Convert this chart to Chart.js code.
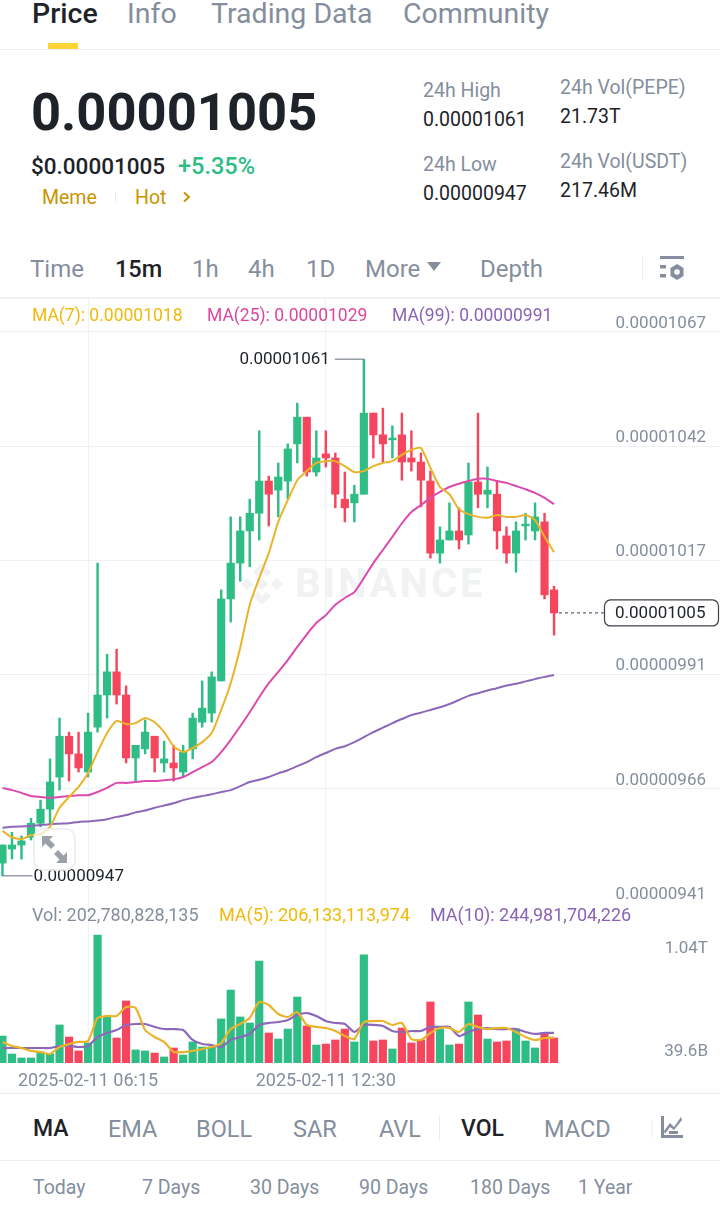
<!DOCTYPE html>
<html>
<head>
<meta charset="utf-8">
<script src="https://cdn.jsdelivr.net/npm/chart.js@4/dist/chart.umd.min.js"></script>
<style>
html,body{margin:0;padding:0;background:#fff;width:720px;height:1210px;overflow:hidden;font-family:Roboto,"Noto Sans",sans-serif;}
.t{position:absolute;white-space:nowrap;line-height:30px;height:30px;transform:translateY(-15px);}
.g{color:#848E9C}.d{color:#1E2329}
.ln{position:absolute;left:0;width:720px;background:#EAECEF}
canvas{position:absolute;left:0}
</style>
</head>
<body>
<div class="t d" style="left:32px;top:14px;font-size:28.5px;font-weight:500">Price</div>
<div class="t g" style="left:127px;top:14px;font-size:28.5px">Info</div>
<div class="t g" style="left:211px;top:14px;font-size:28.5px">Trading Data</div>
<div class="t g" style="left:403px;top:14px;font-size:28.5px">Community</div>
<div style="position:absolute;left:48px;top:43px;width:30px;height:6px;background:#FCD535"></div>
<div class="ln" style="top:49px;height:1px"></div>

<div class="t d" style="left:31px;top:112px;font-size:52.5px;font-weight:700">0.00001005</div>
<div class="t d" style="left:31px;top:166px;font-size:22.5px;font-weight:500">$0.00001005</div>
<div class="t" style="left:178px;top:166px;font-size:23.5px;font-weight:500;color:#2EBD85">+5.35%</div>
<div class="t" style="left:42px;top:198px;font-size:19.5px;color:#C99400">Meme</div>
<div style="position:absolute;left:115px;top:192px;width:1px;height:10px;background:#EAECEF"></div>
<div class="t" style="left:135px;top:198px;font-size:19.5px;color:#C99400">Hot</div>
<svg style="position:absolute;left:182px;top:191px" width="10" height="12"><path d="M2 1.5 L7 6 L2 10.5" fill="none" stroke="#C99400" stroke-width="2"/></svg>

<div class="t g" style="left:423px;top:91px;font-size:19.5px">24h High</div>
<div class="t d" style="left:423px;top:120px;font-size:19.5px">0.00001061</div>
<div class="t g" style="left:560px;top:88px;font-size:19.5px">24h Vol(PEPE)</div>
<div class="t d" style="left:560px;top:117px;font-size:19.5px">21.73T</div>
<div class="t g" style="left:423px;top:165px;font-size:19.5px">24h Low</div>
<div class="t d" style="left:423px;top:194px;font-size:19.5px">0.00000947</div>
<div class="t g" style="left:560px;top:162px;font-size:19.5px">24h Vol(USDT)</div>
<div class="t d" style="left:560px;top:191px;font-size:19.5px">217.46M</div>

<div class="t g" style="left:30px;top:269px;font-size:24px">Time</div>
<div class="t d" style="left:115px;top:269px;font-size:23.5px;font-weight:500">15m</div>
<div class="t g" style="left:192px;top:269px;font-size:24px">1h</div>
<div class="t g" style="left:248px;top:269px;font-size:24px">4h</div>
<div class="t g" style="left:306px;top:269px;font-size:24px">1D</div>
<div class="t g" style="left:365px;top:269px;font-size:24px">More</div>
<svg style="position:absolute;left:427px;top:262px" width="14" height="10"><path d="M0 0 H14 L7 9 Z" fill="#848E9C"/></svg>
<div class="t g" style="left:480px;top:269px;font-size:24px">Depth</div>
<div style="position:absolute;left:642px;top:256px;width:1px;height:24px;background:#EAECEF"></div>
<svg style="position:absolute;left:660px;top:256px" width="25" height="25">
<rect x="0" y="0" width="24" height="3" fill="#848E9C"/><rect x="0" y="9" width="6" height="3.5" fill="#848E9C"/><rect x="0" y="18" width="6" height="3.5" fill="#848E9C"/>
<path d="M17 8 L23.5 12 V20 L17 24 L10.5 20 V12 Z" fill="#848E9C"/><circle cx="17" cy="16" r="2.8" fill="#fff"/></svg>
<div class="ln" style="top:297px;height:2px;background:#F0F1F3"></div>

<!-- watermark -->
<svg style="position:absolute;left:238px;top:560px" width="48" height="48" viewBox="0 0 48 48">
<g fill="#F0F2F3"><path d="M24 3 L33 12 L28.5 16.5 L24 12 L19.5 16.5 L15 12 Z"/><path d="M24 45 L15 36 L19.5 31.5 L24 36 L28.5 31.5 L33 36 Z"/><path d="M3 24 L9 18 L15 24 L9 30 Z"/><path d="M33 24 L39 18 L45 24 L39 30 Z"/><path d="M24 18 L30 24 L24 30 L18 24 Z"/></g></svg>
<div class="t" style="left:295px;top:584px;font-size:40px;font-weight:700;color:#F0F2F3;letter-spacing:3px">BINANCE</div>

<canvas id="priceChart" width="720" height="605" style="top:298px"></canvas>
<canvas id="volumeChart" width="720" height="190" style="top:903px"></canvas>

<div class="t" style="left:32px;top:315px;font-size:17.5px;color:#F0B90B">MA(7): 0.00001018</div>
<div class="t" style="left:207px;top:315px;font-size:17.5px;color:#D9479F">MA(25): 0.00001029</div>
<div class="t" style="left:392px;top:315px;font-size:17.5px;color:#8A63B5">MA(99): 0.00000991</div>
<div class="t g" style="left:32px;top:915px;font-size:18px">Vol: 202,780,828,135</div>
<div class="t" style="left:219px;top:915px;font-size:18px;color:#F0B90B">MA(5): 206,133,113,974</div>
<div class="t" style="left:430px;top:915px;font-size:18px;color:#8A63B5">MA(10): 244,981,704,226</div>

<svg style="position:absolute;left:33px;top:828px" width="43" height="43" viewBox="0 0 43 43">
<rect x="1" y="1" width="41" height="41" rx="9" fill="rgba(255,255,255,.7)" stroke="#EAECEF" stroke-width="1.5"/>
<g fill="#9AA1AA"><path d="M9 8 H20 L16.5 11.5 L22 17 L18 21 L12.5 15.5 L9 19 Z"/><path d="M34 35 H23 L26.5 31.5 L21 26 L25 22 L30.5 27.5 L34 24 Z"/></g></svg>

<div class="ln" style="top:1093px;height:1px"></div>
<div class="t d" style="left:33px;top:1129px;font-size:23px;font-weight:500">MA</div>
<div class="t g" style="left:108px;top:1129px;font-size:23.5px">EMA</div>
<div class="t g" style="left:196px;top:1129px;font-size:23.5px">BOLL</div>
<div class="t g" style="left:293px;top:1129px;font-size:23.5px">SAR</div>
<div class="t g" style="left:379px;top:1129px;font-size:23.5px">AVL</div>
<div style="position:absolute;left:439px;top:1116px;width:1px;height:24px;background:#EAECEF"></div>
<div class="t d" style="left:461px;top:1129px;font-size:23px;font-weight:500">VOL</div>
<div class="t g" style="left:544px;top:1129px;font-size:23.5px">MACD</div>
<div style="position:absolute;left:651px;top:1120px;width:2px;height:17px;background:#F3F4F6"></div>
<svg style="position:absolute;left:660px;top:1116px" width="24" height="24">
<path d="M1 0 V22 H23 V19 H4 V0 Z" fill="#848E9C"/><path d="M4 15 L10 7 L14 11 L21 1 L22 4 L14 14 L10 11 L5 18 Z" fill="#848E9C"/><rect x="9" y="15" width="9" height="3" fill="#848E9C"/></svg>
<div class="ln" style="top:1160px;height:1px"></div>
<div class="t g" style="left:33px;top:1188px;font-size:19.5px">Today</div>
<div class="t g" style="left:142px;top:1188px;font-size:19.5px">7 Days</div>
<div class="t g" style="left:250px;top:1188px;font-size:19.5px">30 Days</div>
<div class="t g" style="left:359px;top:1188px;font-size:19.5px">90 Days</div>
<div class="t g" style="left:470px;top:1188px;font-size:19.5px">180 Days</div>
<div class="t g" style="left:578px;top:1188px;font-size:19.5px">1 Year</div>

<script>
// All prices in units of 1e-8 USDT; volumes in billions (B)
const opens=[949.8,952.9,953.8,955.5,958.6,961.7,968.8,977.8,973.9,969.9,979.8,986.9,992,986.9,973,975,977.8,971.9,971.9,969.9,975,980.9,982.9,990,1008.1,1016,1023.1,1027,1034.1,1032.1,1034.1,1042.3,1048.2,1036.1,1040.1,1039.2,1030.1,1029.3,1031.2,1049.1,1044.3,1043.2,1044.3,1039.2,1038.3,1034.1,1018.2,1021.1,1023.1,1022.2,1033.9,1031.2,1031.2,1022,1018.2,1024.2,1023.1,1025.1,1010.1];
const closes=[953.8,953.8,954.7,958.6,961.7,967.7,977.8,973.9,970.8,978.7,986.9,992,986.9,973,975.8,978.7,973,972.8,970.8,974.3,981.8,984,990.9,1008.1,1016,1023.1,1027,1034.1,1031.2,1035,1041.2,1048.2,1036.1,1039.2,1039.2,1031.2,1028.2,1031.2,1049.1,1044.3,1042.3,1043.6,1038.3,1038.3,1034.3,1018.2,1021.1,1023.1,1021.1,1033.9,1031.2,1032.1,1023.1,1018.2,1023.1,1024.6,1026.2,1009,1005];
const highs=[953.8,956.6,955.8,959.7,963.7,972.8,981.8,978.7,978.7,982.9,1016,995.9,997,988.9,975.8,981.4,977.8,976.7,975.8,975.8,982.9,990,992,1010.1,1026.2,1026.2,1030.1,1045.2,1035.2,1038.1,1042.3,1051.3,1048.2,1045.2,1045.2,1040.3,1036.1,1033.2,1061,1049.1,1050.2,1046.3,1049.1,1045.2,1040.3,1036.3,1024,1029.3,1028.2,1038.1,1049.1,1037.2,1034.1,1024,1025.1,1027,1029.3,1027,1010.9];
const lows=[947,950.7,950.7,954.9,957.8,958.6,965.9,967.9,969.9,968.8,978.7,981.8,984.9,971.9,967.9,973.9,969.9,969.9,967.9,968.8,972.8,979.8,980.9,990,1003,1012,1015.2,1021.1,1024.2,1026.2,1030.1,1038.1,1035.2,1035.2,1037.2,1028.2,1025.1,1025.1,1031.2,1039.2,1038.3,1039.2,1034.3,1036.3,1028.4,1017.1,1016,1021.1,1019.1,1020.2,1028.2,1028.2,1019.1,1016,1014,1021.1,1021.1,1008.1,1000.1];
const ma7=[956.9,955.5,955.1,956,956.2,957.8,962,964.4,966.6,969.7,974.3,978.5,981.2,980.5,980.7,981.8,980.9,978.7,975.6,974.3,975.2,976.5,978.5,983.6,989.5,997.3,1006.8,1012.7,1018.2,1025.1,1029.9,1034.3,1036.3,1038.1,1038.5,1038.5,1037.4,1036.1,1036.3,1037.4,1038.1,1038.5,1039.9,1041,1041.4,1037,1032.8,1031.2,1027.9,1026.8,1026.2,1026,1026.6,1026.2,1026.2,1026.6,1025.5,1021.8,1018.4];
const ma25=[966.4,965.9,965.3,964.6,964.4,964.2,964.4,964.6,964.8,964.8,965.5,966.4,967.5,967.5,967.7,967.9,967.9,968.1,968.3,968.8,969.9,971,972.1,974.3,977,980,983.1,986.4,989.5,992,994.6,997.5,1000.3,1002.8,1004.5,1006.8,1008.3,1009.6,1012.7,1016,1018.9,1021.8,1024.8,1027.3,1028.8,1030.4,1031.7,1032.8,1033.5,1034.1,1034.6,1034.6,1034.1,1033.7,1033,1032.3,1031.5,1030.4,1029];
const ma99=[957.6,957.8,957.9,958,958.2,958.4,958.5,958.6,958.9,959,959.2,959.5,960,960.4,961,961.4,962,962.5,963,963.7,964.2,964.6,965,965.5,965.9,966.8,967.7,968.2,968.8,969.6,970.3,971.2,972.1,973.2,974.1,975,975.6,976.5,977.6,978.7,979.7,980.7,981.6,982.5,983,983.6,984.2,984.9,985.8,986.7,987.3,987.9,988.4,989,989.4,989.9,990.4,990.9,991.3];
const volumes=[219,73,41,41,89,73,309,211,98,163,1040,374,203,504,106,98,81,49,122,65,171,130,130,358,593,374,325,829,244,195,276,536,301,146,154,187,276,171,878,179,187,114,284,163,187,496,276,146,154,496,390,195,171,179,276,179,122,244,203];
const volMa5=[171,138,122,98,89,73,130,154,171,179,366,382,382,455,447,268,211,171,89,89,98,114,130,163,276,317,366,496,471,398,374,414,309,293,284,260,219,195,333,341,341,309,325,195,187,244,284,284,252,317,293,276,284,284,252,211,187,203,206];
const volMa10=[122,122,122,122,122,122,138,138,130,138,211,244,268,309,317,317,293,276,276,268,187,154,146,130,187,211,236,309,325,333,349,390,406,382,341,325,317,252,309,309,301,260,252,260,260,293,293,293,219,252,276,284,276,276,276,252,236,244,245];
const priceTickValues=[1067,1041.8,1016.6,991.4,966.2,941];
const priceTickLabels=['0.00001067','0.00001042','0.00001017','0.00000991','0.00000966','0.00000941'];
const timeTickIndexes=[9,34];
const timeTickLabels=['2025-02-11 06:15','2025-02-11 12:30'];
const volTickValues=[1040,39.6];
const volTickLabels=['1.04T','39.6B'];
const highLabel='0.00001061', lowLabel='0.00000947', lastLabel='0.00001005';
const highIndex=38, lowIndex=0, lastPrice=1005;

const GREEN='#2EBD85',RED='#F6465D',YEL='#EAB42A',MAG='#DA4BAD',PUR='#8C68B8',GRID='#EFF1F3',AXIS='#848E9C';
const colors=opens.map((o,i)=>closes[i]>=o?GREEN:RED);
const xMin=-0.26,xMax=75.45;
const pts=a=>a.map((v,i)=>({x:i,y:v}));
const lineDs=(a,c,w)=>({type:'line',data:pts(a),borderColor:c,borderWidth:w,pointRadius:0,tension:0.2,order:0});
Chart.defaults.animation=false;
Chart.defaults.font.family='Roboto,"Noto Sans",sans-serif';

const noPad=s=>{s.paddingLeft=0;s.paddingRight=0;s.paddingTop=0;s.paddingBottom=0;};
const yFit=s=>{noPad(s);s.width=0;};
const xScale=(labels)=>({type:'linear',min:xMin,max:xMax,offset:false,border:{display:false},
  grid:{color:GRID,lineWidth:1,drawTicks:false,offset:false},
  afterBuildTicks:s=>{s.ticks=timeTickIndexes.map(v=>({value:v}));},
  afterFit:s=>{noPad(s);if(labels)s.height=30;},
  ticks:labels?{color:AXIS,font:{size:18},padding:8,maxRotation:0,autoSkip:false,callback:v=>timeTickLabels[timeTickIndexes.indexOf(v)]}:{display:false}
});

const markers={id:'markers',afterDatasetsDraw(c){
  const g=c.ctx,x=c.scales.x,y=c.scales.y;
  g.save();
  g.font='17px Roboto';g.textBaseline='middle';
  g.strokeStyle='#7D848E';g.lineWidth=1.2;
  const hx=x.getPixelForValue(highIndex),hy=y.getPixelForValue(highs[highIndex]);
  g.beginPath();g.moveTo(hx,hy);g.lineTo(hx-29,hy);g.stroke();
  g.fillStyle='#1E2329';g.textAlign='right';g.fillText(highLabel,hx-34,hy+1);
  const lx=x.getPixelForValue(lowIndex),ly=y.getPixelForValue(lows[lowIndex]);
  g.beginPath();g.moveTo(lx,ly);g.lineTo(lx+30,ly);g.stroke();
  g.textAlign='left';g.fillText(lowLabel,lx+31,ly+1);
  const py=y.getPixelForValue(lastPrice),px=x.getPixelForValue(opens.length-1);
  g.setLineDash([3,3]);g.strokeStyle='#5E6673';
  g.beginPath();g.moveTo(px+5,py);g.lineTo(604,py);g.stroke();g.setLineDash([]);
  g.fillStyle='#fff';g.strokeStyle='#3B4149';g.lineWidth=1.2;
  g.beginPath();g.roundRect(604.5,py-13,114,26,6);g.fill();g.stroke();
  g.fillStyle='#1E2329';g.fillText(lastLabel,615,py+1);
  g.restore();
}};

new Chart(document.getElementById('priceChart'),{
  data:{datasets:[
    lineDs(ma7,YEL,2),lineDs(ma25,MAG,2),lineDs(ma99,PUR,2),
    {type:'bar',grouped:false,data:opens.map((o,i)=>({x:i,y:[o,closes[i]]})),backgroundColor:colors,maxBarThickness:7.5,barPercentage:1,categoryPercentage:1,order:1},
    {type:'bar',grouped:false,data:lows.map((l,i)=>({x:i,y:[l,highs[i]]})),backgroundColor:colors,maxBarThickness:1.8,barPercentage:1,categoryPercentage:1,order:2}
  ]},
  options:{responsive:false,layout:{padding:0},
    plugins:{legend:{display:false},tooltip:{enabled:false}},
    scales:{x:xScale(false),
      y:{position:'right',min:941,max:1074.5,border:{display:false},
        grid:{color:GRID,drawTicks:false},
        afterBuildTicks:s=>{s.ticks=priceTickValues.map(v=>({value:v}));},
        afterFit:yFit,
        ticks:{mirror:true,padding:-14,labelOffset:-8.5,color:AXIS,font:{size:17},callback:v=>priceTickLabels[priceTickValues.indexOf(v)]}
      }}},
  plugins:[markers]
});

new Chart(document.getElementById('volumeChart'),{
  data:{datasets:[
    lineDs(volMa5,YEL,2.2),lineDs(volMa10,PUR,2.2),
    {type:'bar',grouped:false,data:volumes.map((v,i)=>({x:i,y:v})),backgroundColor:colors,maxBarThickness:7.5,barPercentage:1,categoryPercentage:1,order:1}
  ]},
  options:{responsive:false,layout:{padding:0},
    plugins:{legend:{display:false},tooltip:{enabled:false}},
    scales:{x:xScale(true),
      y:{position:'right',min:0,max:1300,border:{display:false},grid:{display:false},
        afterBuildTicks:s=>{s.ticks=volTickValues.map(v=>({value:v}));},
        afterFit:yFit,
        ticks:{mirror:true,padding:-12,labelOffset:4,color:AXIS,font:{size:17},
          callback:v=>{const l=volTickLabels[volTickValues.indexOf(v)];return v>500?['',l]:[l,''];}}
      }}}
});
</script>
</body>
</html>
